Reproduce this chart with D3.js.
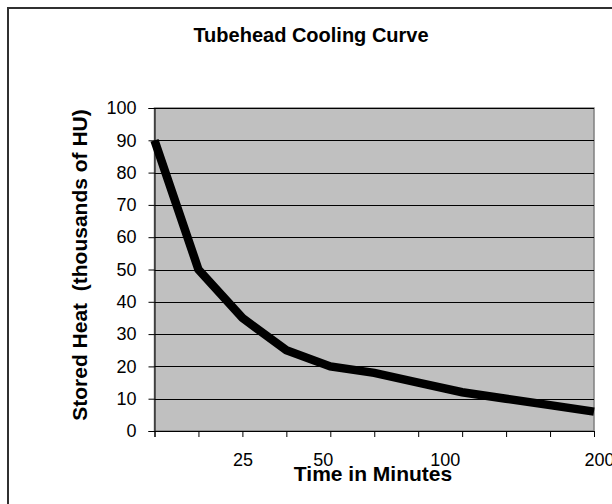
<!DOCTYPE html>
<html>
<head>
<meta charset="utf-8">
<script src="https://cdn.jsdelivr.net/npm/d3@7"></script>
<style>
  body { margin: 0; background: #fff; }
  svg { display: block; font-family: Arial, "Liberation Sans", sans-serif; }
  .xlab text { white-space: pre; }
</style>
</head>
<body>
<script>
// chart is 612 x 504
var width = 612,
	height = 504;

// time steps along the curve (one per category)
var steps = [0, 1, 2, 3, 4, 5, 6, 7, 8, 9, 10];
// category labels, padded the way they sit in the picture
var stepLabels = ["", "", "25", "", "50   ", "", "", "100       ", "", "", "  200"];
// stored heat, thousands of HU
var heat = [90, 50, 35, 25, 20, 18, 15, 12, 10, 8, 6];
var yTicks = [0, 10, 20, 30, 40, 50, 60, 70, 80, 90, 100];

var plot = { left: 154.5, right: 594, top: 108, bottom: 431 };

var svg = d3.select('body')
	.append('svg')
	.attr('width', width)
	.attr('height', height);

// outer chart frame (right and bottom fall outside the picture)
svg.append('rect')
	.attr('x', 8)
	.attr('y', 8)
	.attr('width', 700)
	.attr('height', 600)
	.attr('fill', '#fff')
	.attr('stroke', '#303030')
	.attr('stroke-width', 2);

var x = d3.scalePoint()
	.domain(steps)
	.range([plot.left, plot.right]);

var y = d3.scaleLinear()
	.domain([0, 100])
	.range([plot.bottom, plot.top]);

// grey plot area
svg.append('rect')
	.attr('x', plot.left)
	.attr('y', plot.top)
	.attr('width', plot.right - plot.left)
	.attr('height', plot.bottom - plot.top)
	.attr('fill', '#c0c0c0')
	.attr('stroke', '#808080')
	.attr('stroke-width', 1.5);

// gridlines
svg.append('g')
	.selectAll('line')
	.data(yTicks.slice(1))
	.enter().append('line')
	.attr('x1', plot.left)
	.attr('x2', plot.right)
	.attr('y1', function(d) { return Math.round(y(d)) + 0.5; })
	.attr('y2', function(d) { return Math.round(y(d)) + 0.5; })
	.attr('stroke', '#000')
	.attr('stroke-width', 1);

// y axis
var yAxis = svg.append('g')
	.attr('transform', 'translate(' + plot.left + ',0)')
	.call(d3.axisLeft(y).tickValues(yTicks).tickSize(6).tickPadding(12));
yAxis.selectAll('text').attr('font-size', 18).attr('fill', '#000').attr('font-family', null);
yAxis.selectAll('line, path').attr('stroke', '#000');

// x axis
var xAxis = svg.append('g')
	.attr('class', 'xlab')
	.attr('transform', 'translate(0,' + plot.bottom + ')')
	.call(d3.axisBottom(x).tickSize(6).tickPadding(16)
		.tickFormat(function(d) { return stepLabels[d]; }));
xAxis.selectAll('text').attr('font-size', 18).attr('fill', '#000').attr('font-family', null);
xAxis.selectAll('line, path').attr('stroke', '#000');

// the cooling curve
var line = d3.line()
	.x(function(d, i) { return x(steps[i]); })
	.y(function(d) { return y(d); });

svg.append('path')
	.datum(heat)
	.attr('d', line)
	.attr('fill', 'none')
	.attr('stroke', '#000')
	.attr('stroke-width', 8.5)
	.attr('stroke-linejoin', 'miter');

// titles
svg.append('text')
	.attr('x', 311)
	.attr('y', 42)
	.attr('text-anchor', 'middle')
	.attr('font-size', 20)
	.attr('font-weight', 'bold')
	.text('Tubehead Cooling Curve');

svg.append('text')
	.attr('x', 373)
	.attr('y', 481)
	.attr('text-anchor', 'middle')
	.attr('font-size', 21)
	.attr('font-weight', 'bold')
	.text('Time in Minutes');

svg.append('text')
	.attr('transform', 'translate(87,265) rotate(-90)')
	.attr('text-anchor', 'middle')
	.attr('font-size', 21)
	.attr('font-weight', 'bold')
	.style('white-space', 'pre')
	.text('Stored Heat  (thousands of HU)');
</script>
</body>
</html>
